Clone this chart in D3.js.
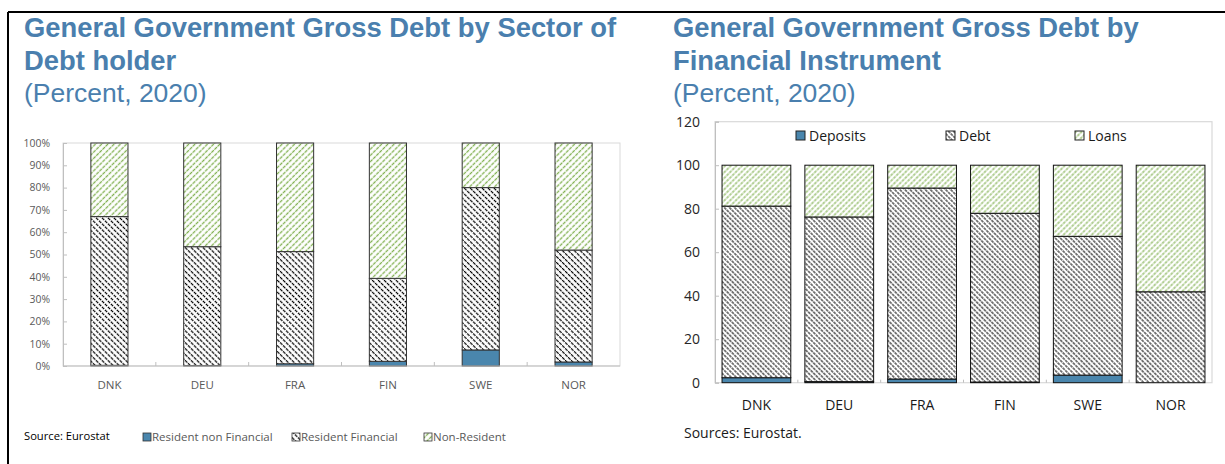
<!DOCTYPE html>
<html>
<head>
<meta charset="utf-8">
<script src="https://cdn.jsdelivr.net/npm/d3@7"></script>
<style>
  body { margin: 0; background: #fff; }
  svg { display: block; font-family: "Open Sans", "Noto Sans", sans-serif; }
</style>
</head>
<body>
<div id="chart"></div>
<script>
var width = 1225,
  height = 464;

// ---- data ----
var countries = ["DNK", "DEU", "FRA", "FIN", "SWE", "NOR"];

// left chart: sector of debt holder (percent)
var holderKeys = ["Resident non Financial", "Resident Financial", "Non-Resident"];
var residentNonFin = [0.3, 0.2, 1.0, 2.1, 7.2, 1.8];
var residentFin = [66.7, 53.3, 50.3, 37.2, 72.8, 50.2];
var nonResident = [33.0, 46.5, 48.7, 60.7, 20.0, 48.0];
var pctTicks = [0, 10, 20, 30, 40, 50, 60, 70, 80, 90, 100];

// right chart: financial instrument (percent)
var instrKeys = ["Deposits", "Debt", "Loans"];
var deposits = [2.3, 0.5, 1.7, 0.3, 3.5, 0.0];
var debtSec = [78.9, 75.7, 87.8, 77.6, 63.8, 41.8];
var loans = [18.8, 23.8, 10.5, 22.1, 32.7, 58.2];
var numTicks = [0, 20, 40, 60, 80, 100, 120];

var titleBlue = "#4a7fae";

var svg = d3.select("#chart")
  .append("svg")
  .attr("width", width)
  .attr("height", height);

// patterns
var defs = svg.append("defs");

function hatch(id, size, angle, color, dash, sw) {
  var p = defs.append("pattern")
    .attr("id", id)
    .attr("patternUnits", "userSpaceOnUse")
    .attr("width", size)
    .attr("height", size)
    .attr("patternTransform", "rotate(" + angle + ")");
  p.append("rect").attr("width", size).attr("height", size).attr("fill", "#fff");
  p.append("line")
    .attr("x1", size / 2).attr("x2", size / 2)
    .attr("y1", 0).attr("y2", size)
    .attr("stroke", color)
    .attr("stroke-width", sw)
    .attr("stroke-dasharray", dash);
}
hatch("darkL", 4.2, -45, "#000", "2.6 0.8", 1.2);
hatch("greenL", 4.4, 45, "#80b04f", "2.4 1", 1.3);
hatch("darkR", 3.6, -45, "#000", "2.6 0.8", 1.0);
hatch("greenR", 4.0, 45, "#80b04f", "2.4 1", 1.2);

var blueFill = "#4a86ad";

// frame lines
svg.append("line").attr("x1", 8).attr("x2", width).attr("y1", 12).attr("y2", 12)
  .attr("stroke", "#000").attr("stroke-width", 2);
svg.append("line").attr("x1", 8).attr("x2", 8).attr("y1", 12).attr("y2", height)
  .attr("stroke", "#000").attr("stroke-width", 2);

// titles
function title(x, lines) {
  var t = svg.append("g").attr("font-family", "Liberation Sans, Arial, sans-serif")
    .attr("fill", titleBlue);
  t.append("text").attr("x", x).attr("y", 37).text(lines[0])
    .attr("font-weight", "bold").attr("font-size", 27.4);
  t.append("text").attr("x", x).attr("y", 70).text(lines[1])
    .attr("font-weight", "bold").attr("font-size", 27.4);
  t.append("text").attr("x", x).attr("y", 102).text(lines[2])
    .attr("font-size", 26.5);
}
title(24, ["General Government Gross Debt by Sector of", "Debt holder", "(Percent, 2020)"]);
title(673, ["General Government Gross Debt by", "Financial Instrument", "(Percent, 2020)"]);

// ---------- left chart ----------
var L = { left: 63, right: 620, top: 143, bottom: 366 };
var xL = d3.scaleBand().domain(countries).range([L.left, L.right]).paddingInner(0.6).paddingOuter(0.3);
var yL = d3.scaleLinear().domain([0, 100]).range([L.bottom, L.top]);

var holderRows = countries.map(function (c, i) {
  var r = { c: c };
  r[holderKeys[0]] = residentNonFin[i];
  r[holderKeys[1]] = residentFin[i];
  r[holderKeys[2]] = nonResident[i];
  return r;
});
var stackL = d3.stack().keys(holderKeys)(holderRows);
var fillL = [blueFill, "url(#darkL)", "url(#greenL)"];

var gL = svg.append("g");
gL.append("rect").attr("x", L.left).attr("y", L.top)
  .attr("width", L.right - L.left).attr("height", L.bottom - L.top)
  .attr("fill", "none").attr("stroke", "#d9d9d9");

var axL = gL.append("g").attr("transform", "translate(" + L.left + ",0)")
  .call(d3.axisLeft(yL).tickValues(pctTicks).tickSize(-4).tickPadding(13)
    .tickFormat(function (d) { return d + "%"; }));
axL.select(".domain").attr("stroke", "#bfbfbf");
axL.selectAll(".tick line").attr("stroke", "#bfbfbf");
axL.selectAll("text").attr("font-size", 10.4).attr("fill", "#595959")
  .attr("font-family", "Open Sans, sans-serif");

gL.selectAll(".ltick").data(d3.range(1, 6)).enter().append("line")
  .attr("x1", function (i) { return L.left + i * (L.right - L.left) / 6; })
  .attr("x2", function (i) { return L.left + i * (L.right - L.left) / 6; })
  .attr("y1", L.bottom - 4).attr("y2", L.bottom)
  .attr("stroke", "#bfbfbf");

stackL.forEach(function (s, k) {
  gL.append("g").selectAll("rect").data(s).enter().append("rect")
    .attr("x", function (d) { return xL(d.data.c); })
    .attr("width", xL.bandwidth())
    .attr("y", function (d) { return yL(d[1]); })
    .attr("height", function (d) { return yL(d[0]) - yL(d[1]); })
    .attr("fill", fillL[k])
    .attr("stroke", "#333")
    .attr("stroke-width", 1);
});

gL.append("line").attr("x1", L.left).attr("x2", L.right).attr("y1", L.bottom).attr("y2", L.bottom)
  .attr("stroke", "#bfbfbf");

gL.selectAll(".xl").data(countries).enter().append("text")
  .attr("x", function (d) { return xL(d) + xL.bandwidth() / 2; })
  .attr("y", 389).attr("text-anchor", "middle")
  .attr("font-size", 11.5).attr("fill", "#595959").text(function (d) { return d; });

gL.append("text").attr("x", 24).attr("y", 440).attr("font-size", 11.2).attr("fill", "#000")
  .text("Source: Eurostat");

var legL = [143, 292, 424];
holderKeys.forEach(function (k, i) {
  gL.append("rect").attr("x", legL[i]).attr("y", 433).attr("width", 8).attr("height", 8)
    .attr("fill", fillL[i]).attr("stroke", "#333").attr("stroke-width", 0.8);
  gL.append("text").attr("x", legL[i] + 9).attr("y", 441).attr("font-size", 11.5)
    .attr("fill", "#595959").text(k);
});

// ---------- right chart ----------
var R = { left: 715, right: 1212, top: 121.7, bottom: 382.7 };
var xR = d3.scaleBand().domain(countries).range([R.left, R.right]).paddingInner(0.17).paddingOuter(0.085);
var yR = d3.scaleLinear().domain([0, 120]).range([R.bottom, R.top]);

var instrRows = countries.map(function (c, i) {
  var r = { c: c };
  r[instrKeys[0]] = deposits[i];
  r[instrKeys[1]] = debtSec[i];
  r[instrKeys[2]] = loans[i];
  return r;
});
var stackR = d3.stack().keys(instrKeys)(instrRows);
var fillR = [blueFill, "url(#darkR)", "url(#greenR)"];

var gR = svg.append("g");
gR.append("rect").attr("x", R.left).attr("y", R.top)
  .attr("width", R.right - R.left).attr("height", R.bottom - R.top)
  .attr("fill", "none").attr("stroke", "#d9d9d9").attr("stroke-width", 1.2);

var axR = gR.append("g").attr("transform", "translate(" + R.left + ",0)")
  .call(d3.axisLeft(yR).tickValues(numTicks).tickSize(-4).tickPadding(15));
axR.select(".domain").attr("stroke", "#bfbfbf");
axR.selectAll(".tick line").attr("stroke", "#bfbfbf");
axR.selectAll("text").attr("font-size", 14).attr("fill", "#262626")
  .attr("font-family", "Open Sans, sans-serif");

gR.selectAll(".rtick").data(d3.range(1, 6)).enter().append("line")
  .attr("x1", function (i) { return R.left + i * (R.right - R.left) / 6; })
  .attr("x2", function (i) { return R.left + i * (R.right - R.left) / 6; })
  .attr("y1", R.bottom - 3).attr("y2", R.bottom)
  .attr("stroke", "#bfbfbf");

stackR.forEach(function (s, k) {
  gR.append("g").selectAll("rect").data(s).enter().append("rect")
    .attr("x", function (d) { return xR(d.data.c); })
    .attr("width", xR.bandwidth())
    .attr("y", function (d) { return yR(d[1]); })
    .attr("height", function (d) { return yR(d[0]) - yR(d[1]); })
    .attr("fill", fillR[k])
    .attr("stroke", "#111")
    .attr("stroke-width", 1);
});

gR.selectAll(".xr").data(countries).enter().append("text")
  .attr("x", function (d) { return xR(d) + xR.bandwidth() / 2; })
  .attr("y", 410).attr("text-anchor", "middle")
  .attr("font-size", 14).attr("fill", "#1a1a1a").text(function (d) { return d; });

var legR = [796, 946, 1075];
instrKeys.forEach(function (k, i) {
  gR.append("rect").attr("x", legR[i]).attr("y", 131).attr("width", 9).attr("height", 9)
    .attr("fill", fillR[i]).attr("stroke", "#222").attr("stroke-width", 1);
  gR.append("text").attr("x", legR[i] + 13).attr("y", 141).attr("font-size", 14)
    .attr("fill", "#1a1a1a").text(k);
});

gR.append("text").attr("x", 684).attr("y", 438).attr("font-size", 14).attr("fill", "#1a1a1a")
  .text("Sources: Eurostat.");
</script>
</body>
</html>
